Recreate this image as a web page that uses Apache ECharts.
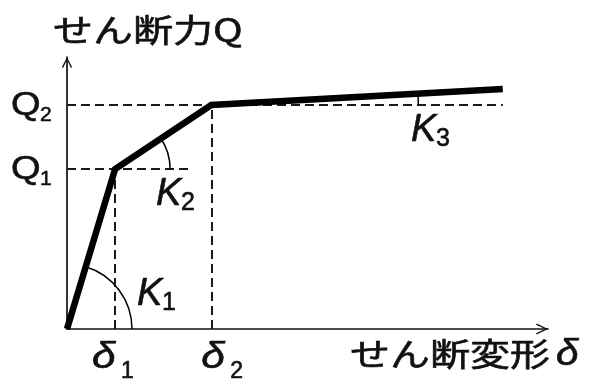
<!DOCTYPE html>
<html><head><meta charset="utf-8">
<script src="https://cdn.jsdelivr.net/npm/echarts@6/dist/echarts.min.js"></script>
<style>html,body{margin:0;padding:0;background:#fff}#c{width:590px;height:379px}</style>
</head><body><div id="c"></div>
<script>
// ---- data ----
const deflection = [0, 1, 3, 9.06];      // 0, δ1, δ2, end
const shear = [0, 1.0, 1.4, 1.5];        // 0, Q1, Q2, end
const q1RefEnd = 2.57;                   // extent of Q1 reference (dashed) line
const xMax = 10, yMax = 1.7;
const xTickMain = ['δ', 'δ'];
const xTickSub = ['1', '2'];
const yTickMain = ['Q', 'Q'];
const yTickSub = ['1', '2'];
const kMain = ['K', 'K', 'K'];
const kSub = ['1', '2', '3'];
const yTitle = 'せん断力Q';
const xTitle = 'せん断変形';
const xTitleSym = 'δ';

// ---- styles ----
const INK = '#111';
const LAT = '"Liberation Sans", Arial, sans-serif';
const JP = '"Noto Sans CJK JP", sans-serif';
const arcRadius = [65, 55, 207];
const chevron = 'path://M0,10 L5,0 L10,10 L8.8,10.7 L5,2.6 L1.2,10.7 Z';

const chart = echarts.init(document.getElementById('c'));
const curve = deflection.map((d, i) => [d, shear[i]]);
const dash = {type: [9, 5], width: 2, color: '#1a1a1a'};

chart.setOption({
  animation: false,
  grid: {left: 67, right: 42, top: 57, bottom: 50},
  xAxis: {
    type: 'value', min: 0, max: xMax,
    axisLine: {show: true, onZero: false, lineStyle: {color: INK, width: 1.7},
      symbol: ['none', chevron], symbolSize: [13, 12], symbolOffset: [0, -6]},
    axisTick: {show: false}, axisLabel: {show: false}, splitLine: {show: false}
  },
  yAxis: {
    type: 'value', min: 0, max: yMax,
    axisLine: {show: true, onZero: false, lineStyle: {color: INK, width: 1.7},
      symbol: ['none', chevron], symbolSize: [12, 11], symbolOffset: [0, -5.5]},
    axisTick: {show: false}, axisLabel: {show: false}, splitLine: {show: false}
  },
  series: [
    {
      type: 'line', data: curve, symbol: 'none', z: 5,
      lineStyle: {color: '#000', width: 6.5, join: 'miter', cap: 'butt'},
      markLine: {
        silent: true, symbol: ['none', 'none'], label: {show: false},
        lineStyle: dash, z: 1,
        data: [
          [{coord: [0, shear[1]]}, {coord: [q1RefEnd, shear[1]]}],
          [{coord: [0, shear[2]]}, {coord: [deflection[3], shear[2]]}],
          [{coord: [deflection[1], 0]}, {coord: [deflection[1], shear[1]]}],
          [{coord: [deflection[2], 0]}, {coord: [deflection[2], shear[2]]}]
        ]
      }
    },
    {
      type: 'custom', z: 4,
      data: [0, 1, 2].map(i => [deflection[i], shear[i], i]),
      renderItem: function (params, api) {
        const i = params.dataIndex;
        const p0 = api.coord([deflection[i], shear[i]]);
        const p1 = api.coord([deflection[i + 1], shear[i + 1]]);
        const th = Math.atan2(p0[1] - p1[1], p1[0] - p0[0]);
        return {
          type: 'arc',
          shape: {cx: p0[0], cy: p0[1], r: arcRadius[i], startAngle: -th, endAngle: 0, clockwise: true},
          style: {stroke: '#000', fill: null, lineWidth: 1.5}
        };
      }
    }
  ]
});

const px = (x, y) => chart.convertToPixel({gridIndex: 0}, [x, y]);
function txt(str, x, y, size, o) {
  o = o || {};
  return {
    type: 'text', x: x, y: y, scaleX: o.sx || 1, silent: true,
    style: {
      text: str, x: 0, y: 0, fontSize: size, fontFamily: o.font || LAT,
      fontStyle: o.italic ? 'italic' : 'normal', fontWeight: 'normal',
      fill: INK, stroke: INK, lineWidth: o.lw == null ? 0.6 : o.lw,
      align: 'left', verticalAlign: 'middle'
    }
  };
}
const els = [];
// axis titles
els.push(txt(yTitle, 53, 30, 32, {font: JP, sx: 1.25}));
els.push(txt(xTitle, 350, 354, 32, {font: JP, sx: 1.25}));
els.push(txt(xTitleSym, 556, 355, 37, {italic: true, sx: 1.1}));
// y tick labels
yTickMain.forEach((m, i) => {
  const y = px(0, shear[i + 1])[1];
  els.push(txt(m, 11, y + 1, 34, {sx: 1.12}));
  els.push(txt(yTickSub[i], 40, y + 10, 21));
});
// x tick labels
const xOff = [-23, -10];
xTickMain.forEach((m, i) => {
  const x = px(deflection[i + 1], 0)[0];
  els.push(txt(m, x + xOff[i], 358, 37, {italic: true, sx: 1.15}));
  els.push(txt(xTickSub[i], x + xOff[i] + 29, 372, 23));
});
// stiffness labels
const kPos = [[137, 294], [156, 194], [411, 130]];
kMain.forEach((m, i) => {
  els.push(txt(m, kPos[i][0], kPos[i][1], 38, {italic: true}));
  els.push(txt(kSub[i], kPos[i][0] + 25, kPos[i][1] + 9, 25));
});
chart.setOption({graphic: {elements: els}});
</script>
</body></html>
